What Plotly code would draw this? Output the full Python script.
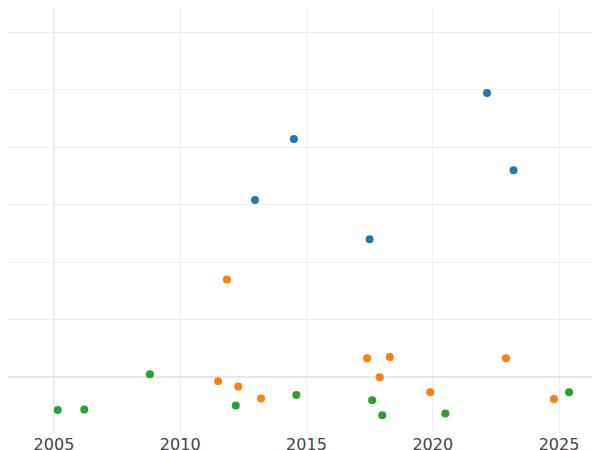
import plotly.graph_objects as go

blue_x = [2022.15, 2014.5, 2023.2, 2012.96, 2017.5]
blue_y = [4.94, 4.14, 3.60, 3.08, 2.40]
orange_x = [2011.85, 2011.5, 2012.3, 2013.2, 2017.4, 2018.3, 2017.9, 2019.9, 2022.9, 2024.8]
orange_y = [1.70, -0.07, -0.16, -0.37, 0.33, 0.35, 0.0, -0.26, 0.33, -0.38]
green_x = [2005.15, 2006.2, 2008.8, 2012.2, 2014.6, 2017.6, 2018.0, 2020.5, 2025.4]
green_y = [-0.57, -0.56, 0.05, -0.49, -0.31, -0.40, -0.66, -0.63, -0.26]

fig = go.Figure()
for xs, ys, c in [(blue_x, blue_y, "#1f77b4"), (orange_x, orange_y, "#ff7f0e"), (green_x, green_y, "#2ca02c")]:
    fig.add_trace(go.Scatter(x=xs, y=ys, mode="markers", marker=dict(color=c, size=8), showlegend=False,
                             cliponaxis=False))

fig.add_vline(x=2005, line=dict(color="#e6e6e6", width=2), layer="below")
fig.update_layout(
    width=600, height=450, margin=dict(l=0, r=0, t=0, b=25, autoexpand=False),
    plot_bgcolor="white", paper_bgcolor="white",
    font=dict(family="DejaVu Sans", size=16, color="#444"),
    xaxis=dict(range=[2003.18, 2026.94], tickvals=[2005, 2010, 2015, 2020, 2025], automargin=False,
               gridcolor="#eeeeee", showline=False, zeroline=False),
    yaxis=dict(range=[-0.97, 6.42], dtick=1, showticklabels=False, automargin=False,
               gridcolor="#eeeeee", zeroline=True, zerolinecolor="#e6e6e6", zerolinewidth=2),
)
fig.write_html("out.html")
